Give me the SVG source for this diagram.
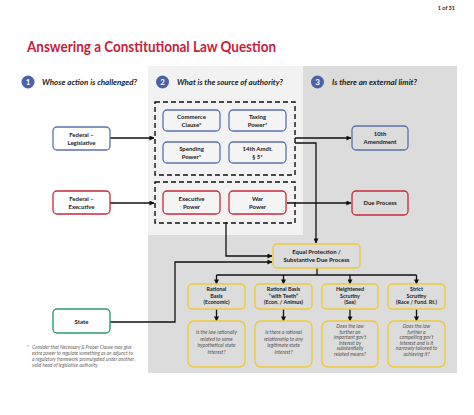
<svg xmlns="http://www.w3.org/2000/svg" width="474" height="415" viewBox="0 0 474 415">
<defs>
<marker id="ah" viewBox="0 0 6 6" refX="5.5" refY="3" markerWidth="5" markerHeight="5" orient="auto" markerUnits="userSpaceOnUse">
<path d="M0,0 L6,3 L0,6 z" fill="#111"/>
</marker>
<style>
text{font-family:Lato,"Liberation Sans",sans-serif;}
.title{font-size:15.5px;font-weight:bold;fill:#c41e3a;}
.step{font-size:7.6px;font-weight:bold;font-style:italic;fill:#1a1a1a;}
.num{font-size:8px;font-weight:bold;fill:#fff;text-anchor:middle;}
.nt{font-size:6px;font-weight:bold;fill:#1a1a1a;text-anchor:middle;}
.tt{font-size:5.4px;font-weight:bold;fill:#1a1a1a;text-anchor:middle;}
.qt{font-size:5.1px;font-style:italic;fill:#555;text-anchor:middle;}
.fn{font-size:4.8px;font-style:italic;fill:#666;}
.blue{fill:#f4f4f4;stroke:#5b72ad;stroke-width:1.3;}
.bluew{fill:#fff;stroke:#5b72ad;stroke-width:1.3;}
.red{fill:#f4f4f4;stroke:#c8283a;stroke-width:1.3;}
.redw{fill:#fff;stroke:#c8283a;stroke-width:1.3;}
.redg{fill:#dcdcdc;stroke:#c8283a;stroke-width:1.3;}
.blueg{fill:#dcdcdc;stroke:#5b72ad;stroke-width:1.3;}
.yel{fill:#dcdcdc;stroke:#f0c93a;stroke-width:1.4;}
.grn{fill:#fff;stroke:#2a9d6a;stroke-width:1.4;}
.dash{fill:none;stroke:#111;stroke-width:1.4;stroke-dasharray:5 3;}
.ln{fill:none;stroke:#111;stroke-width:1.3;}
</style>
</defs>

<!-- backgrounds -->
<rect x="148" y="66" width="309" height="307" fill="#dcdcdc"/>
<rect x="148" y="66" width="155" height="169" fill="#f2f2f2"/>

<text x="455" y="10" font-size="5.5" font-weight="bold" fill="#222" text-anchor="end">1 of 31</text>
<text class="title" x="27" y="52" textLength="249" lengthAdjust="spacingAndGlyphs">Answering a Constitutional Law Question</text>

<g id="step1"><circle cx="28" cy="82" r="6.5" fill="#4a63a8"/><text class="num" x="28" y="85">1</text><text class="step" x="42" y="85" textLength="95" lengthAdjust="spacingAndGlyphs">Whose action is challenged?</text></g>
<g id="step2"><circle cx="162.5" cy="82" r="6.5" fill="#4a63a8"/><text class="num" x="162.5" y="85">2</text><text class="step" x="177" y="85" textLength="106" lengthAdjust="spacingAndGlyphs">What is the source of authority?</text></g>
<g id="step3"><circle cx="317.5" cy="82" r="6.5" fill="#4a63a8"/><text class="num" x="317.5" y="85">3</text><text class="step" x="332" y="85" textLength="85" lengthAdjust="spacingAndGlyphs">Is there an external limit?</text></g>

<!-- connectors -->
<g id="connectors">
<path class="ln" d="M110,138 H154" marker-end="url(#ah)"/>
<path class="ln" d="M110,203 H154" marker-end="url(#ah)"/>
<path class="ln" d="M295,138 H351" marker-end="url(#ah)"/>
<path class="ln" d="M287,203 H351" marker-end="url(#ah)"/>
<path class="ln" d="M295,143 H316 V243" marker-end="url(#ah)"/>
<path class="ln" d="M226,222 V256 H272" marker-end="url(#ah)"/>
<path class="ln" d="M110,322 H175 V262 H272" marker-end="url(#ah)"/>
<path class="ln" d="M317,268 V275"/>
<path class="ln" d="M216.5,275 H416.5"/>
<path class="ln" d="M216.5,275 V284" marker-end="url(#ah)"/>
<path class="ln" d="M283.5,275 V284" marker-end="url(#ah)"/>
<path class="ln" d="M350,275 V284" marker-end="url(#ah)"/>
<path class="ln" d="M416.5,275 V284" marker-end="url(#ah)"/>
<path class="ln" d="M216.5,309 V321" marker-end="url(#ah)"/>
<path class="ln" d="M283.5,309 V321" marker-end="url(#ah)"/>
<path class="ln" d="M350,309 V321" marker-end="url(#ah)"/>
<path class="ln" d="M416.5,309 V321" marker-end="url(#ah)"/>
</g>

<!-- dashed groups -->
<g id="legis-powers"><rect class="dash" x="155" y="102" width="140" height="73"/></g>
<g id="exec-powers"><rect class="dash" x="155" y="182" width="140" height="41"/></g>

<g id="fed-leg"><rect class="bluew" x="53" y="127" width="57" height="23" rx="4"/><text class="nt" x="81.5" y="137">Federal –</text><text class="nt" x="81.5" y="144.5">Legislative</text></g>
<g id="fed-exec"><rect class="redw" x="53" y="191" width="57" height="23" rx="4"/><text class="nt" x="81.5" y="201">Federal –</text><text class="nt" x="81.5" y="208.5">Executive</text></g>
<g id="state"><rect class="grn" x="53" y="309" width="57" height="24" rx="4"/><text class="nt" x="81.5" y="323.5">State</text></g>

<g id="commerce"><rect class="blue" x="163" y="110" width="57" height="21" rx="4"/><text class="nt" x="191.5" y="119">Commerce</text><text class="nt" x="191.5" y="126.5">Clause*</text></g>
<g id="taxing"><rect class="blue" x="229" y="110" width="57" height="21" rx="4"/><text class="nt" x="257.5" y="119">Taxing</text><text class="nt" x="257.5" y="126.5">Power*</text></g>
<g id="spending"><rect class="blue" x="163" y="142" width="57" height="21" rx="4"/><text class="nt" x="191.5" y="151">Spending</text><text class="nt" x="191.5" y="158.5">Power*</text></g>
<g id="amdt14"><rect class="blue" x="229" y="142" width="57" height="21" rx="4"/><text class="nt" x="257.5" y="151">14th Amdt.</text><text class="nt" x="257.5" y="158.5">§ 5*</text></g>
<g id="exec-power"><rect class="red" x="163" y="191" width="57" height="23" rx="4"/><text class="nt" x="191.5" y="201">Executive</text><text class="nt" x="191.5" y="208.5">Power</text></g>
<g id="war-power"><rect class="red" x="229" y="191" width="57" height="23" rx="4"/><text class="nt" x="257.5" y="201">War</text><text class="nt" x="257.5" y="208.5">Power</text></g>

<g id="amdt10"><rect class="blueg" x="352" y="126" width="56" height="24" rx="4"/><text class="nt" x="380" y="136">10th</text><text class="nt" x="380" y="143.5">Amendment</text></g>
<g id="due-process"><rect class="redg" x="352" y="191" width="56" height="24" rx="4"/><text class="nt" x="380" y="205">Due Process</text></g>

<g id="equal-protection"><rect class="yel" x="273" y="244" width="87" height="24" rx="4"/><text class="nt" x="316.5" y="254" font-size="6.4">Equal Protection /</text><text class="nt" x="316.5" y="262" font-size="6.4">Substantive Due Process</text></g>

<g id="rb"><rect class="yel" x="188" y="284" width="57" height="25" rx="4"/><text class="tt" x="216.5" y="291">Rational</text><text class="tt" x="216.5" y="297.5">Basis</text><text class="tt" x="216.5" y="304">(Economic)</text></g>
<g id="rbt"><rect class="yel" x="255" y="284" width="57" height="25" rx="4"/><text class="tt" x="283.5" y="291">Rational Basis</text><text class="tt" x="283.5" y="297.5">“with Teeth”</text><text class="tt" x="283.5" y="304">(Econ. / Animus)</text></g>
<g id="hs"><rect class="yel" x="322" y="284" width="56" height="25" rx="4"/><text class="tt" x="350" y="291">Heightened</text><text class="tt" x="350" y="297.5">Scrutiny</text><text class="tt" x="350" y="304">(Sex)</text></g>
<g id="ss"><rect class="yel" x="388" y="284" width="57" height="25" rx="4"/><text class="tt" x="416.5" y="291">Strict</text><text class="tt" x="416.5" y="297.5">Scrutiny</text><text class="tt" x="416.5" y="304">(Race / Fund. Rt.)</text></g>

<g id="q1"><rect class="yel" x="188" y="321" width="57" height="46" rx="6"/><text class="qt" x="216.5" y="334">Is the law rationally</text><text class="qt" x="216.5" y="340.5">related to some</text><text class="qt" x="216.5" y="347">hypothetical state</text><text class="qt" x="216.5" y="353.5">interest?</text></g>
<g id="q2"><rect class="yel" x="255" y="321" width="57" height="46" rx="6"/><text class="qt" x="283.5" y="334">Is there a rational</text><text class="qt" x="283.5" y="340.5">relationship to any</text><text class="qt" x="283.5" y="347">legitimate state</text><text class="qt" x="283.5" y="353.5">interest?</text></g>
<g id="q3"><rect class="yel" x="322" y="321" width="56" height="46" rx="6"/><text class="qt" x="350" y="328">Does the law</text><text class="qt" x="350" y="333.5">further an</text><text class="qt" x="350" y="339">important gov’t</text><text class="qt" x="350" y="344.5">interest by</text><text class="qt" x="350" y="350">substantially</text><text class="qt" x="350" y="355.5">related means?</text></g>
<g id="q4"><rect class="yel" x="388" y="321" width="57" height="46" rx="6"/><text class="qt" x="416.5" y="328">Does the law</text><text class="qt" x="416.5" y="333.5">further a</text><text class="qt" x="416.5" y="339">compelling gov’t</text><text class="qt" x="416.5" y="344.5">interest and is it</text><text class="qt" x="416.5" y="350">narrowly tailored to</text><text class="qt" x="416.5" y="355.5">achieving it?</text></g>

<g id="footnote">
<text class="fn" x="27" y="349">*</text>
<text class="fn" x="32" y="349">Consider that Necessary &amp; Proper Clause may give</text>
<text class="fn" x="32" y="355">extra power to regulate something as an adjunct to</text>
<text class="fn" x="32" y="361">a regulatory framework promulgated under another,</text>
<text class="fn" x="32" y="367">valid head of legislative authority</text>
</g>
</svg>
